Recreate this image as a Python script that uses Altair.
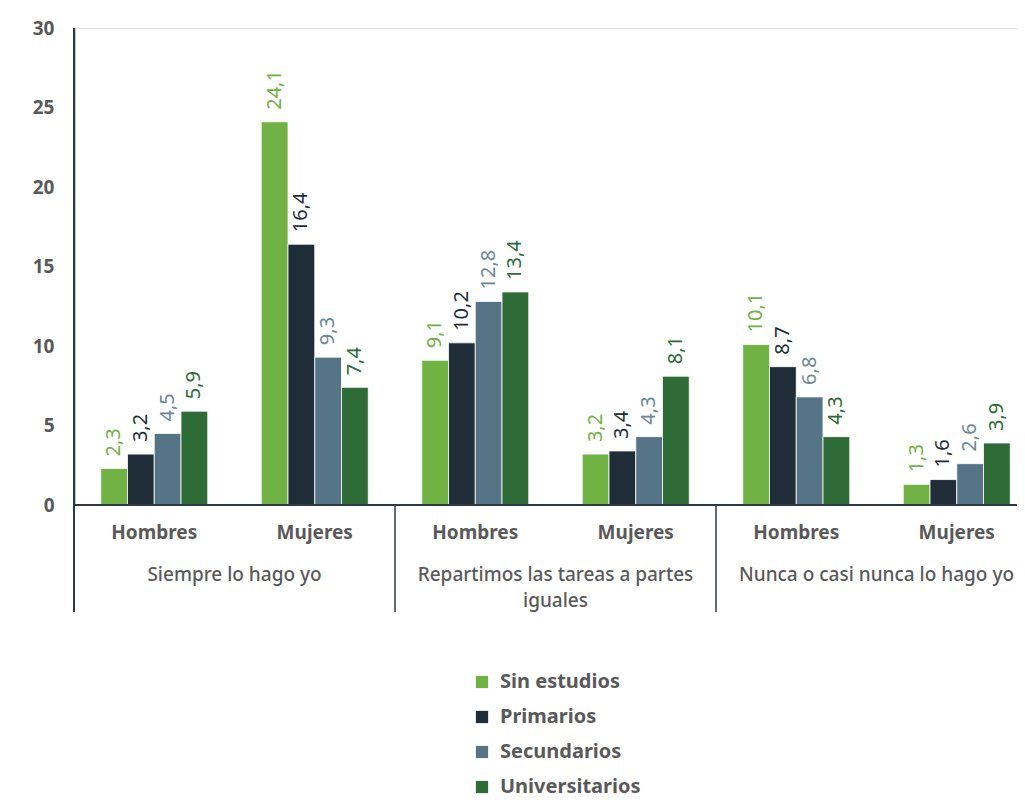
import altair as alt
import pandas as pd

categories = ["Siempre lo hago yo", "Repartimos las tareas a partes iguales", "Nunca o casi nunca lo hago yo"]
category_lines = [["Siempre lo hago yo"], ["Repartimos las tareas a partes", "iguales"], ["Nunca o casi nunca lo hago yo"]]
sexes = ["Hombres", "Mujeres"]
levels = ["Sin estudios", "Primarios", "Secundarios", "Universitarios"]

sin_estudios = [2.3, 24.1, 9.1, 3.2, 10.1, 1.3]
primarios = [3.2, 16.4, 10.2, 3.4, 8.7, 1.6]
secundarios = [4.5, 9.3, 12.8, 4.3, 6.8, 2.6]
universitarios = [5.9, 7.4, 13.4, 8.1, 4.3, 3.9]

bar_colors = ["#70b244", "#1e2d38", "#557587", "#2e6b37"]
label_colors = ["#70b244", "#1e2d38", "#6a8799", "#2e6b37"]
y_ticks = [0, 5, 10, 15, 20, 25, 30]

series = [sin_estudios, primarios, secundarios, universitarios]
keys = [f"{c}|{s}" for c in categories for s in sexes]

rows = []
for li, lev in enumerate(levels):
    for ki, key in enumerate(keys):
        v = series[li][ki]
        rows.append({"key": key, "level": lev, "value": v,
                     "label": f"{v:.1f}".replace(".", ",")})
df = pd.DataFrame(rows)

sub_df = pd.DataFrame({"key": keys, "sex": [k.split("|")[1] for k in keys]})
cat_df = pd.DataFrame({"key": [f"{c}|Mujeres" for c in categories],
                       "text": category_lines})
sep_df = pd.DataFrame({"key": [f"{c}|Mujeres" for c in categories[:2]]})

FONT = "Noto Sans"
GREY = "#595959"
AXIS = "#2e3a44"
H = 477

x_enc = alt.X("key:N", sort=keys, axis=None,
              scale=alt.Scale(range=[0, 963], paddingInner=0, paddingOuter=0))
xo_enc = alt.XOffset("level:N", sort=levels,
                     scale=alt.Scale(paddingInner=0, paddingOuter=1))
y_enc = alt.Y("value:Q", scale=alt.Scale(domain=[0, 30]),
              axis=alt.Axis(values=y_ticks, title=None, ticks=False, grid=False,
                            labelFontSize=19, labelFontWeight="bold", labelColor=GREY,
                            labelPadding=20, domainColor=AXIS, domainWidth=1.5,
                            labelFont=FONT))

bars = alt.Chart(df).mark_bar(stroke="white", strokeWidth=0.8).encode(
    x=x_enc, xOffset=xo_enc, y=y_enc,
    color=alt.Color("level:N", sort=levels,
                    scale=alt.Scale(domain=levels, range=bar_colors),
                    legend=alt.Legend(title=None, orient="none", legendX=398, legendY=644,
                                      symbolType="square", symbolSize=150,
                                      symbolStrokeWidth=0,
                                      labelFontSize=20, labelFontWeight="bold",
                                      labelColor=GREY, labelFont=FONT,
                                      rowPadding=15, labelOffset=8)),
)

value_labels = alt.Chart(df).mark_text(angle=270, align="left", baseline="middle",
                                       dx=12, fontSize=20, font=FONT).encode(
    x=x_enc, xOffset=xo_enc, y=alt.Y("value:Q"), text="label:N",
    color=alt.Color("level:N", sort=levels,
                    scale=alt.Scale(domain=levels, range=label_colors), legend=None),
)

baseline = alt.Chart(sub_df).mark_rule(color=AXIS, strokeWidth=1.5).encode(
    x=alt.value(0), x2=alt.value(1020), y=alt.value(H))

left_ext = alt.Chart(sub_df).mark_rule(color=AXIS, strokeWidth=1.5).encode(
    x=alt.value(0), y=alt.value(0), y2=alt.value(584))

seps = alt.Chart(sep_df).mark_rule(color=AXIS, strokeWidth=1.5).encode(
    x=alt.X("key:N", sort=keys, bandPosition=1),
    y=alt.value(H), y2=alt.value(584))

sub_labels = alt.Chart(sub_df).mark_text(fontSize=19, fontWeight="bold", color=GREY,
                                         font=FONT, baseline="middle").encode(
    x=alt.X("key:N", sort=keys, bandPosition=0.5), y=alt.value(505), text="sex:N")

cat_labels = alt.Chart(cat_df).mark_text(fontSize=19, fontWeight=500, color=GREY,
                                         font=FONT, baseline="middle", lineHeight=26).encode(
    x=alt.X("key:N", sort=keys, bandPosition=0), y=alt.value(547), text="text")

chart = alt.layer(bars, value_labels, baseline, left_ext, seps, sub_labels, cat_labels).resolve_scale(
    color="independent"
).properties(
    width=943, height=H,
    autosize=alt.AutoSizeParams(type="none"),
    padding={"left": 66, "top": 20, "right": 0, "bottom": 300},
).configure_view(stroke=None).configure(font=FONT)

chart.save("out.html", embed_options={"renderer": "svg", "actions": False})
